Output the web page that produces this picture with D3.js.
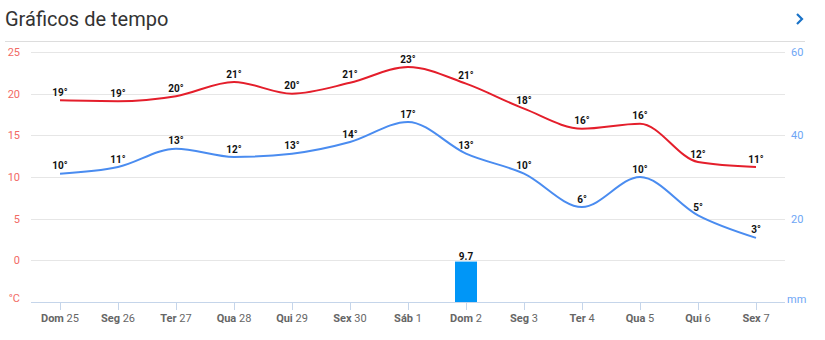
<!DOCTYPE html>
<html><head><meta charset="utf-8">
<script src="https://cdn.jsdelivr.net/npm/d3@7/dist/d3.min.js"></script>
<style>
body{margin:0;background:#fff;font-family:Roboto,"Noto Sans",sans-serif;}
</style></head>
<body><svg id="c" width="825" height="340"></svg>
<script>
const dayNames = ["Dom","Seg","Ter","Qua","Qui","Sex","Sáb","Dom","Seg","Ter","Qua","Qui","Sex"];
const dayNums = ["25","26","27","28","29","30","1","2","3","4","5","6","7"];
const tempMax = [19.2,19.1,19.7,21.4,20.0,21.3,23.2,21.2,18.2,15.8,16.4,11.8,11.2];
const tempMin = [10.4,11.2,13.4,12.4,12.8,14.2,16.6,12.8,10.4,6.4,10.0,5.4,2.7];
const rain = [0,0,0,0,0,0,0,9.7,0,0,0,0,0];
const tempTicks = [0,5,10,15,20,25];
const rainTicks = [20,40,60];

const svg = d3.select("#c");
const L = 31, R = 785, T = 52, B = 302;
const idx = d3.range(dayNames.length);
const x = d3.scaleBand().domain(idx).range([L, R]);
const cx = i => x(i) + x.bandwidth()/2;
const yT = d3.scaleLinear().domain([-5,25]).range([B,T]);
const yR = d3.scaleLinear().domain([0,60]).range([B,T]);

// title
svg.append("text").attr("x",5).attr("y",26).attr("font-size",20).attr("fill","#333").text("Gráficos de tempo");
svg.append("path").attr("d","M797,14 L802,19 L797,24").attr("fill","none").attr("stroke","#1a73c8").attr("stroke-width",2.2);
svg.append("line").attr("x1",5).attr("x2",805).attr("y1",41.5).attr("y2",41.5).attr("stroke","#ddd").attr("stroke-width",1);

// grid
svg.append("g").selectAll("line").data(tempTicks).join("line")
  .attr("x1",L).attr("x2",R).attr("y1",d=>Math.round(yT(d))+0.5).attr("y2",d=>Math.round(yT(d))+0.5)
  .attr("stroke","#e6e6e6");

// left axis labels
svg.append("g").selectAll("text").data(tempTicks).join("text")
  .attr("x",20).attr("y",d=>yT(d)+4).attr("text-anchor","end").attr("font-size",11).attr("fill","#f26a64").text(d=>d);
svg.append("text").attr("x",20).attr("y",yT(-5)).attr("text-anchor","end").attr("font-size",11).attr("fill","#f26a64").text("°C");

// right axis labels
svg.append("g").selectAll("text").data(rainTicks).join("text")
  .attr("x",791).attr("y",d=>yR(d)+4).attr("font-size",11).attr("fill","#6ea6f5").text(d=>d);
svg.append("text").attr("x",787).attr("y",B+1).attr("font-size",11).attr("fill","#6ea6f5").text("mm");

// rain bars
const bw = 22;
const rb = svg.append("g");
rb.selectAll("rect").data(idx.filter(i=>rain[i]>0)).join("rect")
  .attr("x",i=>cx(i)-bw/2).attr("width",bw).attr("y",i=>yR(rain[i])).attr("height",i=>B-yR(rain[i]))
  .attr("fill","#0096f7");
rb.selectAll("text").data(idx.filter(i=>rain[i]>0)).join("text")
  .attr("x",i=>cx(i)).attr("y",i=>yR(rain[i])-2).attr("text-anchor","middle")
  .attr("font-size",10).attr("font-weight","bold").attr("fill","#111").text(i=>rain[i]);

// bottom axis
svg.append("line").attr("x1",L).attr("x2",R).attr("y1",B+0.5).attr("y2",B+0.5).attr("stroke","#c5d5ea");
svg.append("g").selectAll("line").data(idx).join("line")
  .attr("x1",i=>Math.round(cx(i))+0.5).attr("x2",i=>Math.round(cx(i))+0.5).attr("y1",B).attr("y2",B+8).attr("stroke","#c5d5ea");
const tl = svg.append("g").selectAll("text").data(idx).join("text")
  .attr("x",i=>cx(i)).attr("y",322).attr("text-anchor","middle").attr("font-size",11).attr("fill","#666");
tl.append("tspan").attr("font-weight","bold").text(i=>dayNames[i]);
tl.append("tspan").text(i=>" "+dayNums[i]);

// lines
const line = arr => d3.line().x(i=>cx(i)).y(i=>yT(arr[i])).curve(d3.curveMonotoneX)(idx);
svg.append("path").attr("d",line(tempMax)).attr("fill","none").attr("stroke","#e41e2b").attr("stroke-width",2);
svg.append("path").attr("d",line(tempMin)).attr("fill","none").attr("stroke","#4a8cf0").attr("stroke-width",2);

// labels
[tempMax,tempMin].forEach(arr=>{
  svg.append("g").selectAll("text").data(idx).join("text")
    .attr("x",i=>cx(i)).attr("y",i=>yT(arr[i])-4.5).attr("text-anchor","middle")
    .attr("font-size",10).attr("font-weight","bold").attr("fill","#111")
    .text(i=>Math.round(arr[i])+"°");
});
</script></body></html>
